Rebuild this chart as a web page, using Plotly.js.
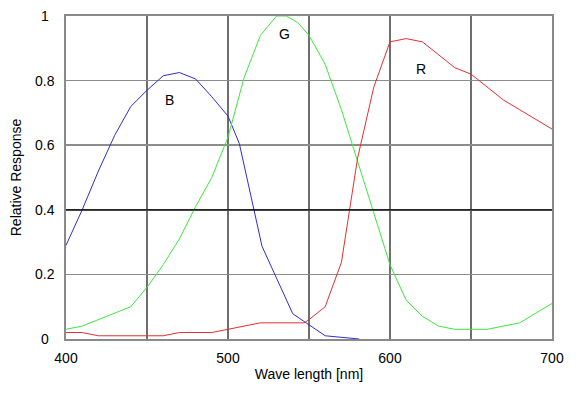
<!DOCTYPE html>
<html>
<head>
<meta charset="utf-8">
<script src="https://cdn.plot.ly/plotly-3.0.1.min.js"></script>
<style>html,body{margin:0;padding:0;background:#fff;}#chart{width:583px;height:399px;}</style>
</head>
<body>
<div id="chart"></div>
<script>
// Wavelengths (nm) and relative response per channel
const blueX = [400, 410, 420, 430, 440, 450, 460, 470, 480, 490, 500, 507, 521, 540, 560, 581];
const blueY = [0.29, 0.40, 0.52, 0.63, 0.72, 0.77, 0.815, 0.825, 0.805, 0.75, 0.69, 0.605, 0.287, 0.078, 0.01, 0.0];

const greenX = [400, 410, 440, 450, 460, 470, 480, 490, 500, 510, 520, 530, 536, 543, 550, 560, 570, 580, 590, 600, 610, 620, 630, 640, 660, 680, 700];
const greenY = [0.03, 0.04, 0.10, 0.16, 0.23, 0.31, 0.41, 0.50, 0.625, 0.81, 0.94, 1.0, 1.0, 0.98, 0.94, 0.85, 0.71, 0.55, 0.385, 0.23, 0.12, 0.07, 0.04, 0.03, 0.03, 0.05, 0.11];

const redX = [400, 410, 420, 460, 470, 490, 500, 510, 520, 547, 550, 560, 570, 580, 590, 600, 610, 620, 630, 640, 650, 660, 670, 680, 690, 700];
const redY = [0.02, 0.02, 0.01, 0.01, 0.02, 0.02, 0.03, 0.04, 0.05, 0.05, 0.06, 0.10, 0.237, 0.56, 0.78, 0.92, 0.93, 0.92, 0.88, 0.84, 0.82, 0.78, 0.74, 0.71, 0.68, 0.65];

const curveLabels = ["B", "G", "R"];
const labelX = [464, 535, 619];
const labelY = [0.74, 0.943, 0.836];

const xTickVals = [400, 450, 500, 550, 600, 650, 700];
const xTickText = ["400", "", "500", "", "600", "", "700"];
const yTickVals = [0, 0.2, 0.4, 0.6, 0.8, 1];
const yTickText = ["0", "0.2", "0.4", "0.6", "0.8", "1"];
const blackLineY = 0.4;

const font = "Liberation Sans, Arial, sans-serif";

const traces = [
  {x: blueX, y: blueY, mode: "lines", line: {color: "#2d2dd2", width: 1}, hoverinfo: "skip"},
  {x: greenX, y: greenY, mode: "lines", line: {color: "#3de63d", width: 1}, hoverinfo: "skip"},
  {x: redX, y: redY, mode: "lines", line: {color: "#e03030", width: 1}, hoverinfo: "skip"}
];

const annotations = curveLabels.map((t, i) => ({
  x: labelX[i], y: labelY[i], xref: "x", yref: "y", text: t, showarrow: false,
  font: {family: font, size: 14, color: "#000"}, xanchor: "center", yanchor: "middle"
}));
// y tick labels centered (as in the reference)
yTickVals.forEach((v, i) => annotations.push({
  x: -0.043, y: v, xref: "paper", yref: "y", text: yTickText[i], showarrow: false,
  font: {family: font, size: 14, color: "#000"}, xanchor: "center", yanchor: "middle"
}));

const shapes = [
  {type: "line", xref: "paper", yref: "y", x0: 0, x1: 1, y0: blackLineY, y1: blackLineY, line: {color: "#000000", width: 1.3}, layer: "above"}
];

const layout = {
  width: 583, height: 399,
  margin: {l: 66, r: 31, t: 16, b: 60},
  paper_bgcolor: "#fff", plot_bgcolor: "#fff",
  showlegend: false,
  font: {family: font, size: 14, color: "#000"},
  xaxis: {
    range: [400, 700], tickvals: xTickVals, ticktext: xTickText,
    showgrid: true, gridcolor: "#6e6e6e", gridwidth: 1.3,
    showline: true, linecolor: "#8a8a8a", linewidth: 2, mirror: true,
    ticks: "", zeroline: false, ticklabelstandoff: 5,
    tickfont: {family: font, size: 14, color: "#000"},
    title: {text: "Wave length [nm]", font: {family: font, size: 14, color: "#000"}, standoff: 4}
  },
  yaxis: {
    range: [0, 1], tickvals: yTickVals, showticklabels: false,
    showgrid: true, gridcolor: "#8c8c8c", gridwidth: 1.5,
    showline: true, linecolor: "#8a8a8a", linewidth: 2, mirror: true,
    ticks: "", zeroline: false,
    title: {text: "Relative Response", font: {family: font, size: 14, color: "#000"}, standoff: 39}
  },
  annotations: annotations,
  shapes: shapes
};

Plotly.newPlot("chart", traces, layout, {staticPlot: true, displayModeBar: false});
</script>
</body>
</html>
